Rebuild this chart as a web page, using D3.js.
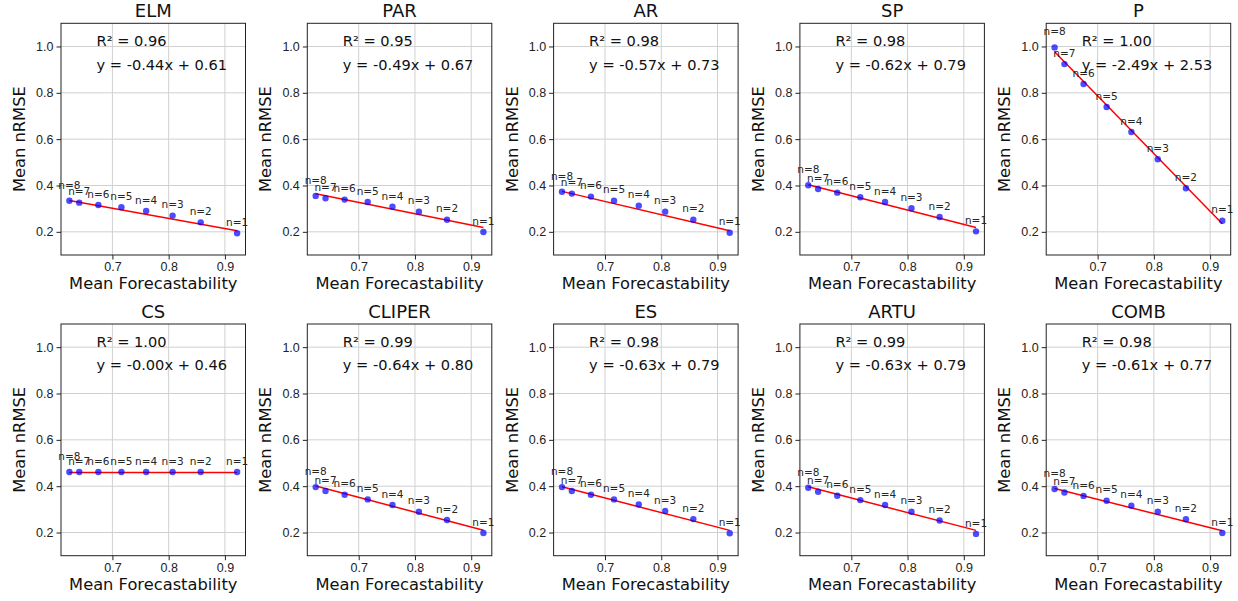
<!DOCTYPE html>
<html>
<head>
<meta charset="utf-8">
<script src="https://cdn.jsdelivr.net/npm/d3@7"></script>
<style>
  body { margin: 0; background: #fff; }
  svg { font-family: "DejaVu Sans", sans-serif; }
  .tick text { font-size: 12.5px; fill: #222; }
  .tick line { stroke: #222; }
  .domain { display: none; }
</style>
</head>
<body>
<div id="chart"></div>
<script>
// panel names, in figure order (two rows of five)
var models = ["ELM", "PAR", "AR", "SP", "P", "CS", "CLIPER", "ES", "ARTU", "COMB"];

// point labels, n=8 ... n=1
var nLabels = ["n=8", "n=7", "n=6", "n=5", "n=4", "n=3", "n=2", "n=1"];

// mean forecastability (x) shared by every panel
var forecastability = [0.6235, 0.641, 0.675, 0.716, 0.760, 0.807, 0.857, 0.9217];

// mean nRMSE (y) per model
var ELM    = [0.334, 0.326, 0.316, 0.306, 0.290, 0.270, 0.241, 0.194];
var PAR    = [0.355, 0.345, 0.339, 0.329, 0.308, 0.287, 0.252, 0.199];
var AR     = [0.373, 0.365, 0.352, 0.334, 0.313, 0.287, 0.252, 0.196];
var SP     = [0.401, 0.385, 0.369, 0.349, 0.329, 0.302, 0.264, 0.202];
var P      = [0.996, 0.924, 0.838, 0.739, 0.631, 0.513, 0.388, 0.248];
var CS     = [0.461, 0.461, 0.461, 0.461, 0.461, 0.461, 0.461, 0.461];
var CLIPER = [0.396, 0.379, 0.363, 0.343, 0.319, 0.290, 0.254, 0.198];
var ES     = [0.396, 0.379, 0.363, 0.343, 0.321, 0.293, 0.258, 0.197];
var ARTU   = [0.393, 0.376, 0.359, 0.340, 0.319, 0.290, 0.252, 0.194];
var COMB   = [0.388, 0.373, 0.358, 0.337, 0.316, 0.290, 0.257, 0.198];

// fit results printed in each panel
var r2Values   = ["0.96", "0.95", "0.98", "0.98", "1.00", "1.00", "0.99", "0.98", "0.99", "0.98"];
var slopes     = [-0.44, -0.49, -0.57, -0.62, -2.49, -0.001, -0.64, -0.63, -0.63, -0.61];
var intercepts = [0.61, 0.67, 0.73, 0.79, 2.53, 0.46, 0.80, 0.79, 0.79, 0.77];

// axis ticks
var xTicks = [0.7, 0.8, 0.9];
var yTicks = [0.2, 0.4, 0.6, 0.8, 1.0];

var allSeries = [ELM, PAR, AR, SP, P, CS, CLIPER, ES, ARTU, COMB];

var width = 1238, height = 601;
var panelW = 184.5, panelH = 231.7;
var colStep = 246.3, rowStep = 300.7;
var left0 = 61, top0 = 23.3;

var svg = d3.select("#chart").append("svg")
    .attr("width", width)
    .attr("height", height);

// x domain with matplotlib's 5% margin around the data
var xMin = d3.min(forecastability), xMax = d3.max(forecastability),
    xPad = (xMax - xMin) * 0.05;

var x = d3.scaleLinear()
    .domain([xMin - xPad, xMax + xPad])
    .range([0, panelW]);

var y = d3.scaleLinear()
    .domain([0.1, 1.1])
    .range([panelH, 0]);

function fmtSlope(s) {
    return (s < 0 ? "-" : "") + Math.abs(s).toFixed(2);
}

models.forEach(function(name, i) {
    var col = i % 5, row = Math.floor(i / 5);
    var values = allSeries[i];
    var pts = values.map(function(v, j) { return {x: forecastability[j], y: v, label: nLabels[j]}; });

    var g = svg.append("g")
        .attr("transform", "translate(" + (left0 + col * colStep) + "," + (top0 + row * rowStep) + ")");

    // grid
    g.append("g").selectAll("line")
        .data(xTicks).join("line")
        .attr("x1", d => x(d)).attr("x2", d => x(d))
        .attr("y1", 0).attr("y2", panelH)
        .attr("stroke", "#d0d0d0").attr("stroke-width", 1);
    g.append("g").selectAll("line")
        .data(yTicks).join("line")
        .attr("x1", 0).attr("x2", panelW)
        .attr("y1", d => y(d)).attr("y2", d => y(d))
        .attr("stroke", "#d0d0d0").attr("stroke-width", 1);

    // axes
    g.append("g")
        .attr("transform", "translate(0," + panelH + ")")
        .call(d3.axisBottom(x).tickValues(xTicks).tickFormat(d3.format(".1f"))
            .tickSizeInner(4.5).tickSizeOuter(0).tickPadding(3));
    g.append("g")
        .call(d3.axisLeft(y).tickValues(yTicks).tickFormat(d3.format(".1f"))
            .tickSizeInner(4.5).tickSizeOuter(0).tickPadding(3));

    g.append("rect")
        .attr("width", panelW).attr("height", panelH)
        .attr("fill", "none").attr("stroke", "#222").attr("stroke-width", 1);

    // regression line
    var x1 = xMin, x2 = xMax;
    g.append("line")
        .attr("x1", x(x1)).attr("y1", y(slopes[i] * x1 + intercepts[i]))
        .attr("x2", x(x2)).attr("y2", y(slopes[i] * x2 + intercepts[i]))
        .attr("stroke", "red").attr("stroke-width", 1.5);

    // points
    g.append("g").selectAll("circle")
        .data(pts).join("circle")
        .attr("cx", d => x(d.x)).attr("cy", d => y(d.y))
        .attr("r", 3.2)
        .attr("fill", "blue").attr("fill-opacity", 0.7);

    // n labels
    g.append("g").selectAll("text")
        .data(pts).join("text")
        .attr("x", d => x(d.x))
        .attr("y", (d, j) => y(d.y) - (j === 0 ? 12 : 7.3))
        .attr("text-anchor", "middle")
        .attr("font-size", "10.5px")
        .attr("fill", "#262626")
        .text(d => d.label);

    // fit annotations
    g.append("text")
        .attr("x", 35.5).attr("y", 22.6)
        .attr("font-size", "14.6px").attr("fill", "#111")
        .text("R\u00b2 = " + r2Values[i]);
    g.append("text")
        .attr("x", 35.5).attr("y", 46.4)
        .attr("font-size", "14.6px").attr("fill", "#111")
        .text("y = " + fmtSlope(slopes[i]) + "x + " + intercepts[i].toFixed(2));

    // title and axis labels
    g.append("text")
        .attr("x", panelW / 2).attr("y", -6)
        .attr("text-anchor", "middle")
        .attr("font-size", "18px").attr("fill", "#111")
        .text(name);
    g.append("text")
        .attr("x", panelW / 2).attr("y", panelH + 34)
        .attr("text-anchor", "middle")
        .attr("font-size", "16.3px").attr("fill", "#111")
        .text("Mean Forecastability");
    g.append("text")
        .attr("transform", "translate(-36," + (panelH / 2) + ") rotate(-90)")
        .attr("text-anchor", "middle")
        .attr("font-size", "16.3px").attr("fill", "#111")
        .text("Mean nRMSE");
});
</script>
</body>
</html>
